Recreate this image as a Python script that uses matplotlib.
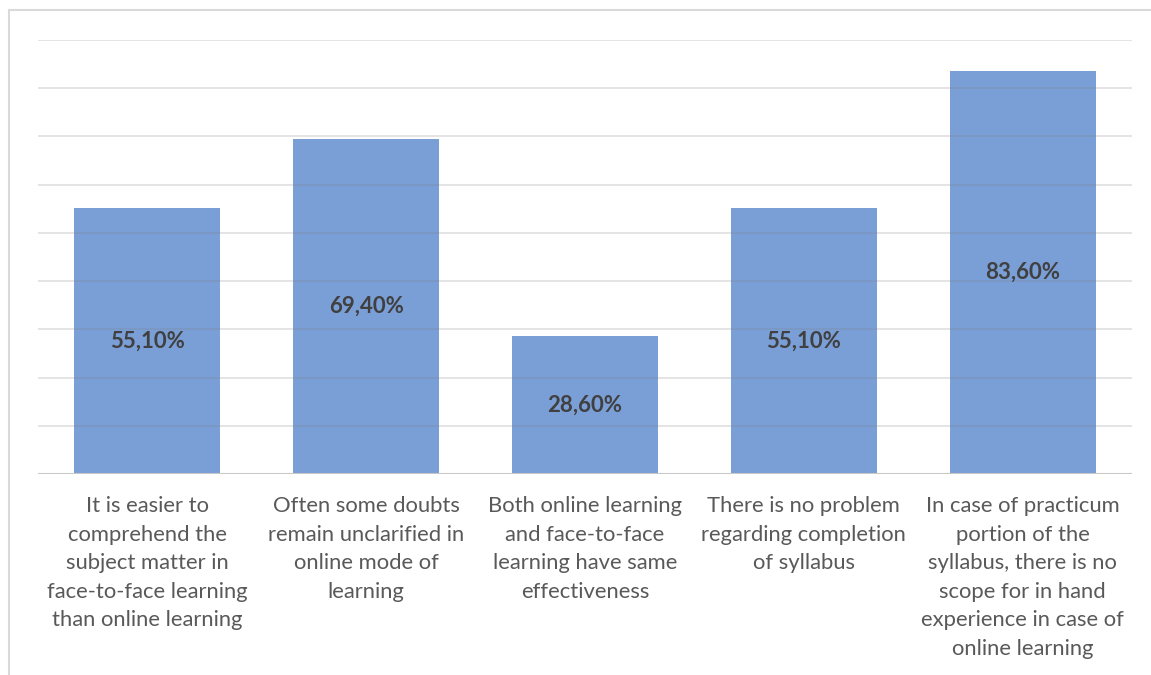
import matplotlib.pyplot as plt
from matplotlib.patches import Rectangle

categories = [
    "It is easier to\ncomprehend the\nsubject matter in\nface-to-face learning\nthan online learning",
    "Often some doubts\nremain unclarified in\nonline mode of\nlearning",
    "Both online learning\nand face-to-face\nlearning have same\neffectiveness",
    "There is no problem\nregarding completion\nof syllabus",
    "In case of practicum\nportion of the\nsyllabus, there is no\nscope for in hand\nexperience in case of\nonline learning",
]
values = [55.1, 69.4, 28.6, 55.1, 83.6]
value_labels = ["55,10%", "69,40%", "28,60%", "55,10%", "83,60%"]

plt.rcParams['font.family'] = ['Lato', 'DejaVu Sans']

fig = plt.figure(figsize=(11.51, 6.75), dpi=100)
ax = fig.add_axes([38 / 1151, 201 / 675, 1094 / 1151, 434 / 675])

x = range(len(values))
ax.bar(x, values, width=0.667, color='#7a9ed6', zorder=2)

# gridlines over the bars, like the original
for g in range(10, 100, 10):
    ax.axhline(g, color='#7f7f7f', lw=1.2, alpha=0.25, zorder=3)
ax.axhline(0, color='#c8c8c8', lw=1.5, zorder=3)

for i, (v, lab) in enumerate(zip(values, value_labels)):
    ax.text(i, v / 2, lab, ha='center', va='center', fontsize=16,
            fontweight='bold', color='#404040', zorder=4)

ax.set_xlim(-0.5, len(values) - 0.5)
ax.set_ylim(0, 90)
ax.set_xticks(list(x))
ax.set_xticklabels(categories, fontsize=15.8, color='#595959', linespacing=1.53, va='top')
ax.tick_params(axis='x', length=0, pad=16)
ax.set_yticks([])
for s in ax.spines.values():
    s.set_visible(False)

# chart border
fig.patches.append(Rectangle((9 / 1151, -0.1), 1.2, (665 + 67) / 675, transform=fig.transFigure,
                             fill=False, edgecolor='#d9d9d9', lw=1.5))

fig.savefig('out.png', dpi=100)
